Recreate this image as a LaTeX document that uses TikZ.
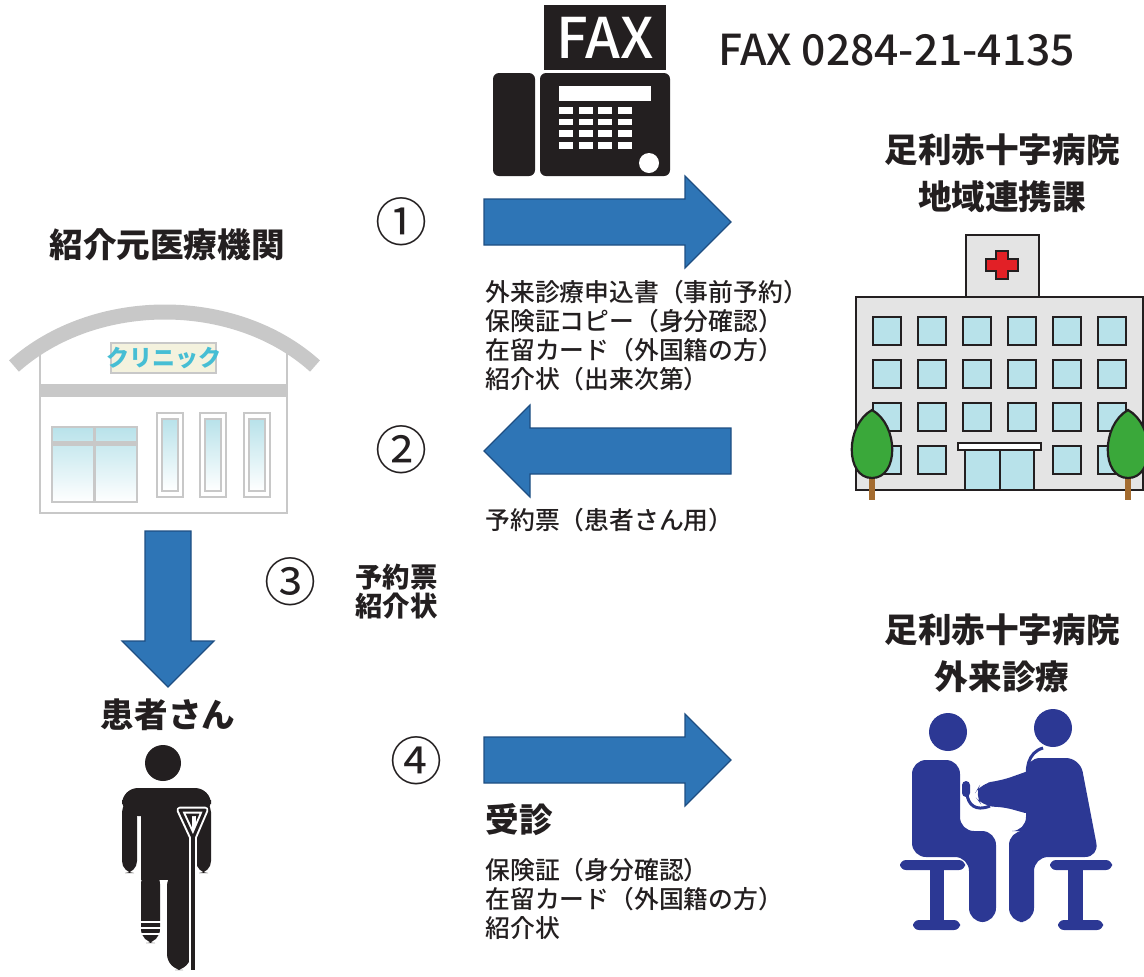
\documentclass[tikz,border=0pt]{standalone}
\usepackage{fontspec}
\setmainfont{Noto Sans CJK JP}
\newfontfamily\mediumfont{Noto Sans CJK JP Medium}

\definecolor{flowblue}{RGB}{46,117,182}
\definecolor{flowedge}{RGB}{30,78,130}
\definecolor{inkblack}{RGB}{35,31,32}
\definecolor{wallgray}{RGB}{228,228,228}
\definecolor{glassblue}{RGB}{184,226,234}
\definecolor{archgray}{RGB}{200,200,200}
\definecolor{signcream}{RGB}{244,242,222}
\definecolor{signcyan}{RGB}{70,190,212}
\definecolor{crossred}{RGB}{226,32,38}
\definecolor{leafgreen}{RGB}{58,168,58}
\definecolor{trunkbrown}{RGB}{164,108,48}
\definecolor{docnavy}{RGB}{44,56,148}

\tikzset{
  title/.style={font=\fontsize{16.8}{23.5}\selectfont\bfseries, text=inkblack, align=center},
  itemlist/.style={font=\mediumfont\fontsize{12.4}{14.5}\selectfont, text=inkblack, align=left, anchor=west, inner sep=0pt},
  stepnum/.style={font=\fontsize{26}{26}\selectfont, text=inkblack, inner sep=0pt},
  flowarrow/.style={fill=flowblue, draw=flowedge, line width=0.6pt},
  window/.style={fill=glassblue, draw=inkblack, line width=1.1pt},
}

\begin{document}
\begin{tikzpicture}[x=0.5pt, y=-0.5pt]
  \useasboundingbox (0,0) rectangle (1144,976);

  % block arrows: centre x/y, length, rotation
  \foreach \cx/\cy/\len/\rot in {607.5/222/247/0, 607.5/451/247/180, 168/609/156/-90, 607.5/760/247/0} {
    \pgfmathsetmacro{\half}{\len/2}
    \filldraw[flowarrow, shift={(\cx,\cy)}, rotate=\rot]
      (-\half,-23) -- ({\half-46},-23) -- ({\half-46},-46) -- (\half,0)
      -- ({\half-46},46) -- ({\half-46},23) -- (-\half,23) -- cycle;
  }

  % fax machine
  \fill[inkblack] (544,5) rectangle (666,70);
  \node[font=\mediumfont\fontsize{28}{28}\selectfont, text=white] (faxlbl) at (605,38) {FAX};
  \fill[inkblack, rounded corners=3] (493,73) rectangle (535,176);
  \fill[inkblack, rounded corners=3] (540,73) rectangle (670,176);
  \fill[white] (559,86) rectangle (651,101);
  \foreach \i in {0,...,3}
    \foreach \j in {0,...,3}
      \fill[white] ({559+\i*19.7},{107+\j*11.7}) rectangle +(14,6.5);
  \fill[white] (649,163) circle (10);
  \node[font=\mediumfont\fontsize{21.3}{27}\selectfont, text=inkblack, anchor=west] (faxno) at (711,50) {FAX 0284-21-4135};

  % hospital building
  \filldraw[fill=wallgray, draw=inkblack, line width=1.2pt] (966,235) rectangle (1039,297);
  \filldraw[fill=crossred, draw=inkblack, line width=0.6pt]
    (996,251) -- (1008,251) -- (1008,259) -- (1018,259) -- (1018,271) -- (1008,271)
    -- (1008,279) -- (996,279) -- (996,271) -- (986,271) -- (986,259) -- (996,259) -- cycle;
  \filldraw[fill=wallgray, draw=inkblack, line width=1.2pt] (856,297) rectangle (1143,490);
  \foreach \c in {0,...,5}
    \foreach \r in {0,1,2}
      \filldraw[window] ({873+\c*45},{317+\r*43}) rectangle +(28,28);
  \foreach \c in {0,1,4,5}
    \filldraw[window] ({873+\c*45},446) rectangle +(28,28);
  \filldraw[fill=white, draw=inkblack, line width=1.1pt] (958,443) rectangle (1041,450);
  \filldraw[window] (965,450) rectangle (1000,490);
  \filldraw[window] (1000,450) rectangle (1034,490);
  \foreach \tx in {872,1128} {
    \fill[trunkbrown] ({\tx-3},470) rectangle ({\tx+3},500);
    \filldraw[fill=leafgreen, draw=inkblack, line width=1.1pt]
      (\tx,410) .. controls ({\tx+27},425) and ({\tx+27},478) .. (\tx,478)
      .. controls ({\tx-27},478) and ({\tx-27},425) .. (\tx,410) -- cycle;
  }

  % clinic
  \draw[archgray, line width=1pt, fill=white] (40,350) -- (40,513) -- (287,513) -- (287,350);
  \draw[archgray, line width=7.5pt] (14,366) .. controls (95,294) and (235,294) .. (315,366);
  \fill[archgray] (40,384) rectangle (287,397);
  \filldraw[fill=signcream, draw=archgray, line width=1pt] (111,343) rectangle (216,373);
  \node[font=\fontsize{11.5}{11.5}\selectfont\bfseries, text=signcyan] (signtxt) at (163.5,358) {クリニック};
  \shade[top color=glassblue, bottom color=white] (52,427) rectangle (137,502);
  \draw[archgray, line width=1.2pt] (52,427) rectangle (137,502);
  \draw[archgray, line width=1.2pt] (94.5,427) -- (94.5,502);
  \fill[archgray] (52,441) rectangle (137,446);
  \foreach \wx in {157,200,244} {
    \draw[archgray, line width=1.2pt] (\wx,413) rectangle ({\wx+26},497);
    \shade[top color=glassblue, bottom color=white] ({\wx+5},419) rectangle ({\wx+21},491);
    \draw[archgray, line width=0.8pt] ({\wx+5},419) rectangle ({\wx+21},491);
  }

  % patient with crutch
  \fill[inkblack] (163,763) circle (18);
  \fill[inkblack, rounded corners=8] (122,788) rectangle (211,816);
  \fill[inkblack, rounded corners=6] (122,800) rectangle (137,873);
  \fill[inkblack, rounded corners=6] (196,800) rectangle (211,873);
  \fill[inkblack] (141,800) rectangle (192,880);
  \fill[inkblack, rounded corners=7] (141,870) rectangle (160,943);
  \fill[inkblack, rounded corners=8] (167,870) rectangle (191,970);
  \foreach \sy in {922,928,934}
    \draw[white, line width=1pt] (139,\sy) -- (162,\sy);
  \draw[white, line width=3.5pt, line join=round] (180,810) -- (205,810) -- (193,838) -- cycle;
  \draw[white, line width=4pt] (193,838) -- (193,968);
  \draw[inkblack, line width=1.5pt, line join=round] (180,810) -- (205,810) -- (193,838) -- cycle;
  \draw[inkblack, line width=2pt] (193,836) -- (193,970);

  % doctor and patient seated
  \begin{scope}[docnavy]
    \fill (948,732) circle (19);
    \fill (1053,728) circle (19);
    \fill[rounded corners=7] (912,760) -- (960,760) -- (960,831) -- (996,831) -- (996,922)
      -- (969,922) -- (969,857) -- (912,857) -- cycle;
    \fill[rounded corners=7] (1026,758) -- (1080,758) -- (1099,857) -- (1034,857) -- (1034,922)
      -- (1009,922) -- (1009,831) -- (1026,831) -- cycle;
    \fill[rounded corners=6] (1045,765) -- (1000,781) -- (981,783) -- (974,795) -- (983,807)
      -- (1000,806) -- (1036,816) -- cycle;
    \fill[rounded corners=3] (900,860) rectangle (965,870);
    \fill (930,868) rectangle (944,922);
    \fill[rounded corners=3] (913,920) rectangle (960,930);
    \fill[rounded corners=3] (1050,860) rectangle (1112,870);
    \fill (1068,868) rectangle (1083,922);
    \fill[rounded corners=3] (1058,920) rectangle (1103,930);
    \draw[line width=1.5pt] (1043,748) .. controls (1028,752) and (1024,770) .. (1030,785);
    \draw[line width=1.5pt] (990,806) .. controls (975,812) and (968,804) .. (967,794);
    \fill[rounded corners=2] (962,781) rectangle (970,797);
  \end{scope}

  % labels
  \node[title] (clinic) at (167,245) {紹介元医療機関};
  \node[title] (hosp) at (1002,173) {足利赤十字病院\\地域連携課};
  \node[title] (outpt) at (1002,653) {足利赤十字病院\\外来診療};
  \node[title] (patient) at (168,715) {患者さん};

  \node[stepnum] (n1) at (401,222) {①};
  \node[stepnum] (n2) at (401,450) {②};
  \node[stepnum] (n3) at (290,582) {③};
  \node[stepnum] (n4) at (416,761) {④};

  \node[itemlist] (docs) at (485,336) {外来診療申込書（事前予約）\\保険証コピー（身分確認）\\在留カード（外国籍の方）\\紹介状（出来次第）};
  \node[itemlist] (ticket) at (485,520) {予約票（患者さん用）};
  \node[itemlist, font=\bfseries\fontsize{13.7}{14.5}\selectfont] (handout) at (355,592) {予約票\\紹介状};
  \node[title, anchor=west, inner sep=0pt] (visit) at (485,820) {受診};
  \node[itemlist] (bring) at (485,899) {保険証（身分確認）\\在留カード（外国籍の方）\\紹介状};
\end{tikzpicture}
\end{document}
